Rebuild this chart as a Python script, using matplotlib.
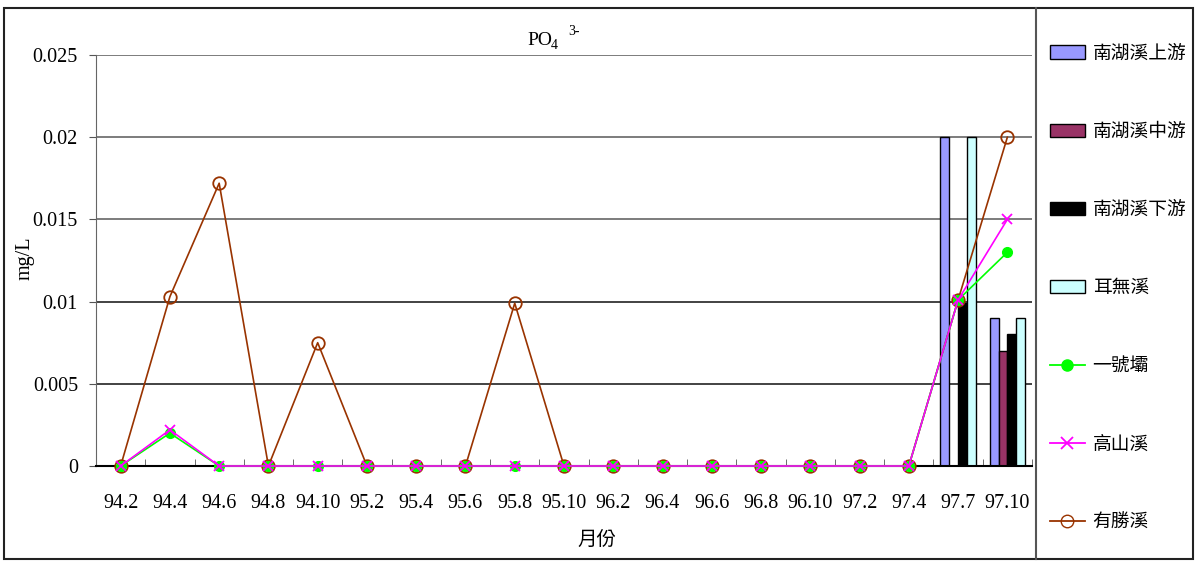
import matplotlib.pyplot as plt
import numpy as np
from matplotlib.patches import Rectangle, Patch
from matplotlib.lines import Line2D

plt.rcParams['font.family'] = ['Liberation Serif', 'Noto Sans CJK TC']

months = ['94.2', '94.4', '94.6', '94.8', '94.10', '95.2', '95.4', '95.6', '95.8', '95.10',
          '96.2', '96.4', '96.6', '96.8', '96.10', '97.2', '97.4', '97.7', '97.10']

# bar series (only the last two months have data)
upper = [0]*17 + [0.02, 0.009]
middle = [0]*17 + [0, 0.007]
lower = [0]*17 + [0.0099, 0.008]
erwu = [0]*17 + [0.02, 0.009]

# line series
yihao = [0, 0.002, 0, 0, 0, 0, 0, 0, 0, 0, 0, 0, 0, 0, 0, 0, 0, 0.0101, 0.013]
gaoshan = [0, 0.0022, 0, 0, 0, 0, 0, 0, 0, 0, 0, 0, 0, 0, 0, 0, 0, 0.0101, 0.015]
yousheng = [0, 0.0103, 0.0172, 0, 0.0075, 0, 0, 0, 0.0099, 0, 0, 0, 0, 0, 0, 0, 0, 0.0101, 0.02]

W, H = 1197, 561
fig = plt.figure(figsize=(W/100, H/100), dpi=100)
ax = fig.add_axes([96/W, 1-466/H, (1032-96)/W, (466-55)/H])

x = np.arange(len(months))
bw = 0.18
bar_cols = ['#9999FF', '#993366', '#000000', '#CCFFFF']
for i, (vals, c) in enumerate(zip([upper, middle, lower, erwu], bar_cols)):
    v = np.array(vals, dtype=float)
    m = v > 0
    ax.bar(x[m] + (i-1.5)*bw, v[m], width=bw, color=c, edgecolor='black', linewidth=1, zorder=2)

ax.plot(x, yousheng, color='#993300', lw=1.2, marker='o', ms=9, mfc='none', mec='#993300', mew=1.3,
        zorder=3, clip_on=False)
ax.plot(x, yihao, color='#00FF00', lw=1.2, marker='o', ms=7, mfc='#00FF00', mec='#00FF00',
        zorder=4, clip_on=False)
ax.plot(x, gaoshan, color='#FF00FF', lw=1.2, marker='x', ms=7, mew=1.3, zorder=5, clip_on=False)

ax.set_xlim(-0.5, len(months)-0.5)
ax.set_ylim(0, 0.025)
ax.set_yticks([0, 0.005, 0.01, 0.015, 0.02, 0.025])
ax.set_yticklabels(['0', '0.005', '0.01', '0.015', '0.02', '0.025'])
for yv in [0.005, 0.01, 0.015, 0.02, 0.025]:
    ax.axhline(yv, color='#222222' if yv < 0.015 else '#666666', lw=1.2, zorder=1)

ax.set_xticks(x)
ax.set_xticklabels(months)
ax.set_xticks(np.arange(len(months)+1) - 0.5, minor=True)
ax.tick_params(axis='x', which='major', length=0, pad=20, labelsize=14.5)
ax.tick_params(axis='x', which='minor', direction='in', length=5, color='#555555')
ax.tick_params(axis='y', length=5, direction='out', pad=8, labelsize=14.5, color='#555555')

for s in ['top', 'right']:
    ax.spines[s].set_visible(False)
ax.spines['left'].set_color('#666666')
ax.spines['bottom'].set_color('black')
ax.spines['bottom'].set_linewidth(1.5)

fig.text(25/W, 1-258/H, 'mg/L', rotation=90, ha='center', va='center', fontsize=14.5)
fig.text(597/W, 1-540/H, '月份', ha='center', va='center', fontsize=14, family=['Noto Sans CJK TC'])

# title PO4 3-
fig.text(527/W, 1-45/H, 'PO', ha='left', va='baseline', fontsize=14)
fig.text(551/W, 1-49/H, '4', ha='left', va='baseline', fontsize=10)
fig.text(568/W, 1-35/H, '3-', ha='left', va='baseline', fontsize=10)

# frames
fig.add_artist(Rectangle((4/W, 1-559/H), (1193-4)/W, (559-8)/H, transform=fig.transFigure,
                         fill=False, edgecolor='#222222', lw=1.5))
fig.add_artist(Line2D([1036/W, 1036/W], [1-559/H, 1-8/H], transform=fig.transFigure,
                      color='#555555', lw=1.5))

handles = [Patch(facecolor=c, edgecolor='black', lw=1) for c in bar_cols]
handles += [Line2D([], [], color='#00FF00', marker='o', ms=8, mfc='#00FF00', mec='#00FF00', lw=1.3),
            Line2D([], [], color='#FF00FF', marker='x', ms=8, mew=1.3, lw=1.3),
            Line2D([], [], color='#993300', marker='o', ms=9, mfc='none', mec='#993300', lw=1.3)]
labels = ['南湖溪上游', '南湖溪中游', '南湖溪下游', '耳無溪', '一號壩', '高山溪', '有勝溪']
fig.legend(handles, labels, loc='upper left', bbox_to_anchor=(1042/W, 1-35/H), frameon=False,
           prop={'family': ['Noto Sans CJK TC'], 'size': 13.5}, labelspacing=3.05,
           handlelength=1.9, handleheight=0.7, handletextpad=0.4, borderaxespad=0)

fig.savefig('out.png', dpi=100)
